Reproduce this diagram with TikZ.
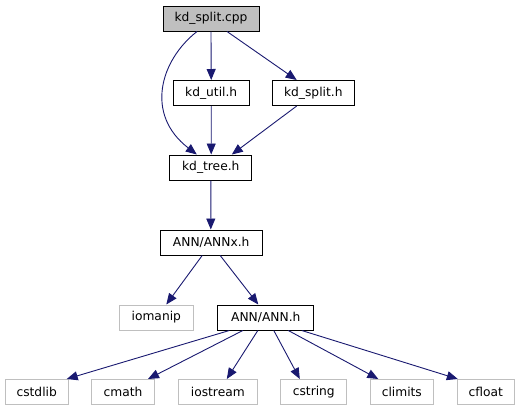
\documentclass[tikz,border=0pt]{standalone}
\usepackage{fontspec}
\setmainfont{DejaVu Sans}
\usetikzlibrary{arrows.meta}
\definecolor{edgecol}{HTML}{191970}
\definecolor{grayb}{HTML}{BFBFBF}
\begin{document}
\begin{tikzpicture}[x=1bp,y=-1bp,
  box/.style={draw=black,line width=1bp,minimum height=25bp,inner sep=0pt,font=\fontsize{12.3}{13}\selectfont},
  ext/.style={draw=grayb,line width=1bp,minimum height=25bp,inner sep=0pt,font=\fontsize{12.3}{13}\selectfont},
  edge/.style={draw=edgecol,line width=0.9bp,-{Triangle[length=11bp,width=9bp]},fill=none},
]
\useasboundingbox (0,0) rectangle (520,411);
\node[box,fill=grayb,minimum width=96bp] (cpp) at (211,18.5) {kd\_split.cpp};
\node[box,minimum width=76bp] (util) at (211.2,93) {kd\_util.h};
\node[box,minimum width=82bp] (splith) at (313.3,93) {kd\_split.h};
\node[box,minimum width=82bp] (tree) at (210.8,167.5) {kd\_tree.h};
\node[box,minimum width=102bp] (annx) at (211.2,242.5) {ANN/ANNx.h};
\node[ext,minimum width=74bp] (iomanip) at (156.3,317.5) {iomanip};
\node[box,minimum width=96bp] (annh) at (265.8,317.5) {ANN/ANN.h};
\node[ext,minimum width=63bp] (cstdlib) at (36.7,392) {cstdlib};
\node[ext,minimum width=63bp] (cmath) at (123,392) {cmath};
\node[ext,minimum width=79bp] (iostream) at (217.8,392) {iostream};
\node[ext,minimum width=66bp] (cstring) at (313.8,392) {cstring};
\node[ext,minimum width=63bp] (climits) at (401.8,392) {climits};
\node[ext,minimum width=57bp] (cfloat) at (485.8,392) {cfloat};

\draw[edge] ([xshift=-14bp]cpp.south) .. controls +(-37,29) and +(-52,-40) .. ([xshift=-14bp]tree.north);
\draw[edge] (cpp.south) -- (util.north);
\draw[edge] ([xshift=16bp]cpp.south) -- ([xshift=-16.6bp]splith.north);
\draw[edge] (util.south) -- ([xshift=0.4bp]tree.north);
\draw[edge] ([xshift=-16.6bp]splith.south) -- ([xshift=21bp]tree.north);
\draw[edge] (tree.south) -- ([xshift=-0.4bp]annx.north);
\draw[edge] ([xshift=-9bp]annx.south) -- ([xshift=10bp]iomanip.north);
\draw[edge] ([xshift=9bp]annx.south) -- ([xshift=-7.5bp]annh.north);
\draw[edge] ([xshift=-36.5bp]annh.south) -- ([xshift=-2bp]cstdlib.north east);
\draw[edge] ([xshift=-23bp]annh.south) -- ([xshift=25bp]cmath.north);
\draw[edge] ([xshift=-8bp]annh.south) -- ([xshift=9bp]iostream.north);
\draw[edge] ([xshift=8bp]annh.south) -- ([xshift=-14bp]cstring.north);
\draw[edge] ([xshift=22.5bp]annh.south) -- ([xshift=-23.5bp]climits.north);
\draw[edge] ([xshift=36bp]annh.south) -- ([xshift=1bp]cfloat.north west);
\end{tikzpicture}
\end{document}
